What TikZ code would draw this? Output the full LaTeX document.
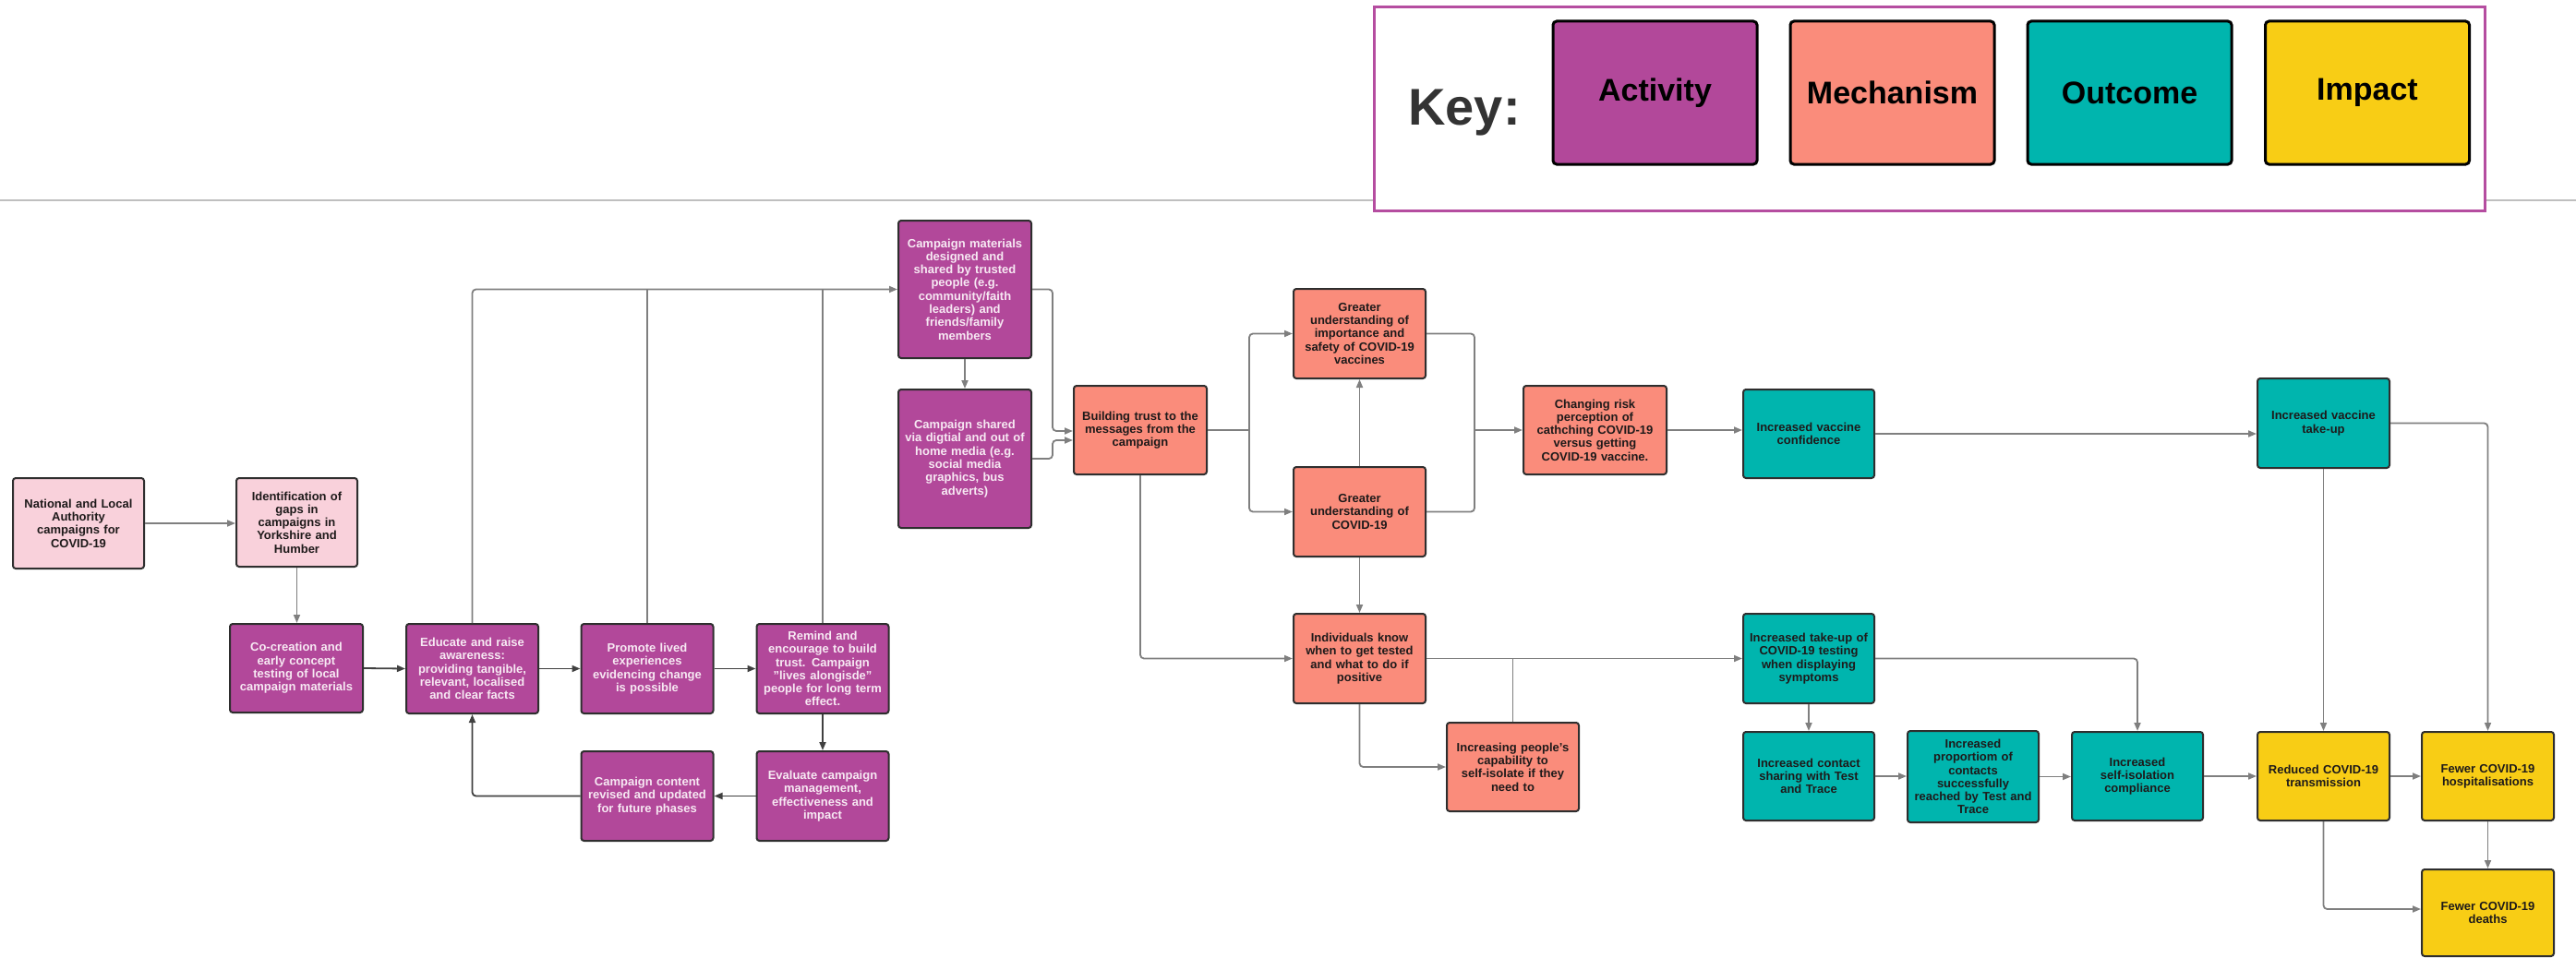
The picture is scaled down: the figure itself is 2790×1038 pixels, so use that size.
\documentclass[tikz,border=0pt]{standalone}
\usepackage{fontspec}
\setmainfont{Liberation Sans}
\usetikzlibrary{arrows.meta}
\definecolor{pinkc}{HTML}{F9D1DB}
\definecolor{actc}{HTML}{B2489A}
\definecolor{mechc}{HTML}{FA8C7B}
\definecolor{outc}{HTML}{00B5AE}
\definecolor{impc}{HTML}{F8CD15}
\definecolor{bordc}{HTML}{2E2E2E}
\definecolor{linec}{HTML}{7F7F7F}
\definecolor{darkl}{HTML}{404040}
\definecolor{keyc}{HTML}{B54DA0}
\definecolor{acttxt}{HTML}{F7E9F3}
\definecolor{txtc}{HTML}{1E1A1A}
\begin{document}
\begin{tikzpicture}[x=1pt,y=-1pt,
  box/.style={draw=bordc, line width=2pt, rounded corners=3pt, minimum width=143pt,
    minimum height=97pt, inner sep=2pt, align=center, text width=136pt,
    font=\bfseries\fontsize{13}{14.3}\selectfont},
  pinkbox/.style={box, fill=pinkc, text=txtc},
  actbox/.style={box, fill=actc, text=acttxt},
  mechbox/.style={box, fill=mechc, text=txtc},
  outbox/.style={box, fill=outc, text=txtc},
  impbox/.style={box, fill=impc, text=txtc},
  keytile/.style={draw=black, line width=3pt, rounded corners=4pt, minimum width=221pt,
    minimum height=155pt, inner sep=0pt, text=black, font=\bfseries\fontsize{34}{38}\selectfont},
  conn/.style={draw=linec, line width=1.8pt, rounded corners=4pt, -{Triangle[length=9pt,width=7pt]}},
  dconn/.style={conn, draw=darkl},
  plain/.style={draw=linec, line width=1.8pt, rounded corners=4pt}
]
\useasboundingbox (0,0) rectangle (2790,1038);
% header separator
\draw[draw=black!25, line width=2pt] (0,217) -- (2790,217);
% key
\node[draw=keyc, line width=3pt, fill=white, minimum width=1203pt, minimum height=220pt, inner sep=0pt] (keybox) at (2089.5,118) {};
\node[text=black!80, font=\bfseries\fontsize{56}{60}\selectfont] (keylbl) at (1586,122) {Key:};
\node[keytile, fill=actc] (kact) at (1792.5,100.5) {Activity};
\node[keytile, fill=mechc] (kmech) at (2049.5,100.5) {Mechanism};
\node[keytile, fill=outc] (kout) at (2306.5,100.5) {Outcome};
\node[keytile, fill=impc] (kimp) at (2564,100.5) {Impact};

% nodes
\node[pinkbox, minimum width=142pt, minimum height=98pt] (nat) at (85,567) {National and Local\\Authority\\campaigns for\\COVID-19};
\node[pinkbox, minimum width=131pt, minimum height=96pt, text width=127pt] (ident) at (321.5,566) {Identification of\\gaps in\\campaigns in\\Yorkshire and\\Humber};
\node[actbox, minimum width=144pt, minimum height=96pt] (cocr) at (321,724) {Co-creation and\\early concept\\testing of local\\campaign materials};
\node[actbox] (educ) at (511.5,724.5) {Educate and raise\\awareness:\\providing tangible,\\relevant, localised\\and clear facts};
\node[actbox] (promo) at (701,724.5) {Promote lived\\experiences\\evidencing change\\is possible};
\node[actbox] (remind) at (891,724.5) {Remind and\\encourage to build\\trust. Campaign\\"lives alongisde"\\people for long term\\effect.};
\node[actbox] (eval) at (891,862.5) {Evaluate campaign\\management,\\effectiveness and\\impact};
\node[actbox] (content) at (701,862.5) {Campaign content\\revised and updated\\for future phases};
\node[actbox, minimum width=144pt, minimum height=149pt] (mater) at (1045,313.5) {Campaign materials\\designed and\\shared by trusted\\people (e.g.\\community/faith\\leaders) and\\friends/family\\members};
\node[actbox, minimum width=144pt, minimum height=150pt] (shared) at (1045,497) {Campaign shared\\via digtial and out of\\home media (e.g.\\social media\\graphics, bus\\adverts)};
\node[mechbox, minimum width=144pt, minimum height=96pt] (trust) at (1235,466) {Building trust to the\\messages from the\\campaign};
\node[mechbox] (gimp) at (1472.5,361.5) {Greater\\understanding of\\importance and\\safety of COVID-19\\vaccines};
\node[mechbox] (gcov) at (1472.5,554.5) {Greater\\understanding of\\COVID-19};
\node[mechbox, minimum width=155pt, minimum height=96pt, text width=148pt] (change) at (1727.5,466) {Changing risk\\perception of\\cathching COVID-19\\versus getting\\COVID-19 vaccine.};
\node[mechbox] (indiv) at (1472.5,713.5) {Individuals know\\when to get tested\\and what to do if\\positive};
\node[mechbox, minimum height=96pt] (capab) at (1638.5,831) {Increasing people's\\capability to\\self-isolate if they\\need to};
\node[outbox, minimum width=142pt, minimum height=96pt] (vconf) at (1959,470) {Increased vaccine\\confidence};
\node[outbox, minimum height=97pt] (vtake) at (2516.5,458.5) {Increased vaccine\\take-up};
\node[outbox, minimum width=142pt] (test) at (1959,713.5) {Increased take-up of\\COVID-19 testing\\when displaying\\symptoms};
\node[outbox, minimum width=142pt, minimum height=96pt] (contact) at (1959,841) {Increased contact\\sharing with Test\\and Trace};
\node[outbox, minimum width=142pt, minimum height=99pt] (prop) at (2137,841.5) {Increased\\proportiom of\\contacts\\successfully\\reached by Test and\\Trace};
\node[outbox, minimum width=142pt, minimum height=96pt] (selfiso) at (2315,841) {Increased\\self-isolation\\compliance};
\node[impbox, minimum height=96pt] (reduced) at (2516.5,841) {Reduced COVID-19\\transmission};
\node[impbox, minimum height=96pt] (hosp) at (2694.5,841) {Fewer COVID-19\\hospitalisations};
\node[impbox, minimum height=94pt] (deaths) at (2694.5,989) {Fewer COVID-19\\deaths};

% junction coordinates
\coordinate (jA) at (1140,467);
\coordinate (jB) at (1140,477);
\coordinate (jC) at (1353,466);
\coordinate (jD) at (1597,466);

% connectors
\draw[conn] (nat.east) -- (nat.east -| ident.west);
\draw[conn] (ident.south) -- (ident.south |- cocr.north);
\draw[dconn] (cocr.east) -- (educ.west);
\draw[dconn] (educ.east) -- (promo.west);
\draw[dconn] (promo.east) -- (remind.west);
\draw[dconn] (remind.south) -- (eval.north);
\draw[dconn] (eval.west) -- (content.east);
\draw[dconn] (content.west) -| (educ.south);
\draw[conn] (educ.north) |- (mater.west);
\draw[plain] (promo.north) -- (promo.north |- mater.west);
\draw[plain] (remind.north) -- (remind.north |- mater.west);
\draw[conn] (mater.south) -- (shared.north);
\draw[conn] (mater.east) -| (jA) -- (jA -| trust.west);
\draw[conn] (shared.east) -| (jB) -- (jB -| trust.west);
\draw[plain] (trust.east) -- (jC);
\draw[conn] (jC) |- (gimp.west);
\draw[conn] (jC) |- (gcov.west);
\draw[conn] (gcov.north) -- (gimp.south);
\draw[plain] (gimp.east) -| (jD);
\draw[plain] (gcov.east) -| (jD);
\draw[conn] (jD) -- (change.west);
\draw[conn] (change.east) -- (change.east -| vconf.west);
\draw[conn] (vconf.east) -- (vconf.east -| vtake.west);
\draw[conn] (vtake.east) -| (hosp.north);
\draw[conn] (vtake.south) -- (vtake.south |- reduced.north);
\draw[conn] (gcov.south) -- (indiv.north);
\draw[conn] (trust.south) |- (indiv.west);
\draw[conn] (indiv.east) -- (indiv.east -| test.west);
\draw[plain] (capab.north) -- (capab.north |- indiv.east);
\draw[conn] (indiv.south) |- (capab.west);
\draw[conn] (test.south) -- (contact.north);
\draw[conn] (test.east) -| (selfiso.north);
\draw[conn] (contact.east) -- (contact.east -| prop.west);
\draw[conn] (prop.east) -- (prop.east -| selfiso.west);
\draw[conn] (selfiso.east) -- (selfiso.east -| reduced.west);
\draw[conn] (reduced.east) -- (reduced.east -| hosp.west);
\draw[conn] (hosp.south) -- (deaths.north);
\draw[conn] (reduced.south) |- ([yshift=4pt]deaths.west);
\end{tikzpicture}
\end{document}
